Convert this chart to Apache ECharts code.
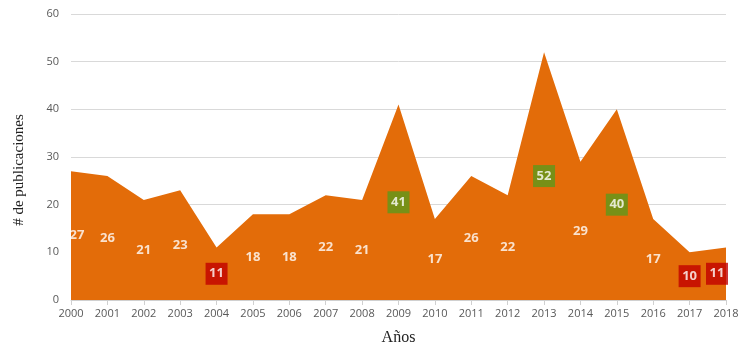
<!DOCTYPE html>
<html><head><meta charset="utf-8">
<script src="https://cdn.jsdelivr.net/npm/echarts@6/dist/echarts.min.js"></script>
<style>html,body{margin:0;padding:0;background:#fff}#c{width:754px;height:356px}</style>
</head><body><div id="c"></div>
<script>
const years = ['2000','2001','2002','2003','2004','2005','2006','2007','2008','2009','2010','2011','2012','2013','2014','2015','2016','2017','2018'];
const publications = [27,26,21,23,11,18,18,22,21,41,17,26,22,52,29,40,17,10,11];
const lowYears = ['2004','2017','2018'];
const highYears = ['2009','2013','2015'];
const yTicks = [0,10,20,30,40,50,60];

const labelPoints = years.map((y,i)=>{
  const v = publications[i];
  let bg = 'transparent';
  if (lowYears.includes(y)) bg = '#C00000';
  if (highYears.includes(y)) bg = '#5B9A1B';
  const lbl = {backgroundColor:bg};
  if (i === 0) lbl.offset = [6,0];
  if (i === years.length-1) lbl.offset = [-9,0];
  return {value:[y, v/2, v], label:lbl};
});

const chart = echarts.init(document.getElementById('c'));
chart.setOption({
  animation:false,
  grid:{left:71,right:28,top:14,bottom:56},
  graphic:[{type:'text',x:19,y:170,rotation:Math.PI/2,
    style:{text:'# de publicaciones',fontFamily:'Liberation Serif',fontSize:15,fill:'#222',
      align:'center',verticalAlign:'middle'}}],
  xAxis:{type:'category',data:years,boundaryGap:false,
    name:'Años',nameLocation:'middle',nameGap:30,
    nameTextStyle:{fontFamily:'Liberation Serif',fontSize:16,color:'#222'},
    axisLine:{lineStyle:{color:'#d0d0d0'}},
    axisTick:{show:true,lineStyle:{color:'#d0d0d0'},length:5},
    axisLabel:{color:'#595959',fontFamily:'Open Sans',fontSize:11,margin:8}},
  yAxis:{type:'value',min:0,max:60,interval:10,
    axisLine:{show:false},axisTick:{show:false},
    splitLine:{lineStyle:{color:'#d9d9d9'}},
    axisLabel:{color:'#595959',fontFamily:'Open Sans',fontSize:11,margin:12,
      formatter:v=>yTicks.includes(v)?String(v):''}},
  series:[
    {type:'line',data:publications,symbol:'none',lineStyle:{width:0},
     areaStyle:{color:'#E36C09',opacity:1},z:2},
    {type:'scatter',data:labelPoints,symbolSize:0,z:5,clip:false,
     label:{show:true,position:'inside',formatter:p=>p.value[2],
       color:'#fff',fontWeight:'bold',fontFamily:'Open Sans',fontSize:13,
       padding:[3,3,2,3],width:16,height:17,align:'center',verticalAlign:'middle',lineHeight:17}}
  ]
});
</script></body></html>
